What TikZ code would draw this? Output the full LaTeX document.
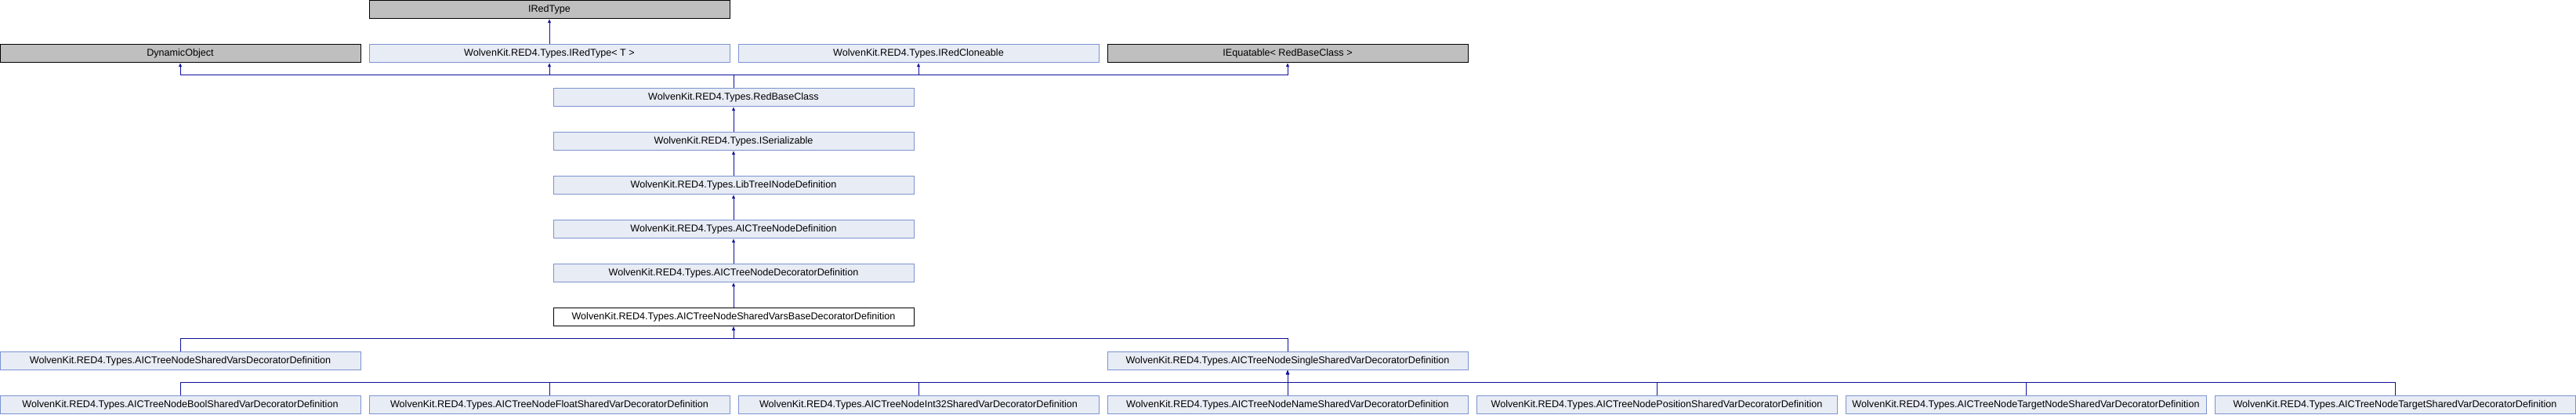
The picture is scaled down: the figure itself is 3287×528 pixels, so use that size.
\documentclass[tikz,border=0pt]{standalone}
\usepackage{fontspec}
\setmainfont{Liberation Sans}
\usetikzlibrary{arrows.meta}
\definecolor{boxfill}{HTML}{E8ECF5}
\definecolor{boxline}{HTML}{7B93CF}
\definecolor{extfill}{HTML}{BFBFBF}
\definecolor{edgeblue}{HTML}{10109C}
\begin{document}
\begin{tikzpicture}[x=1pt, y=-1pt,
		cls/.style={draw=boxline, fill=boxfill, rectangle, line width=1pt, minimum width=460pt, minimum height=23.5pt, inner sep=0pt, font=\fontsize{12.6}{14}\selectfont},
		ext/.style={cls, draw=black, fill=extfill},
		cur/.style={cls, draw=black, fill=white},
		inh/.style={draw=edgeblue, line width=1pt, -{Latex[length=5pt,width=4.5pt]}}]
	\useasboundingbox (0,0) rectangle (3287,528);

	% Base types
	\node[ext] (iredtype) at (701,11.75) {IRedType};
	\node[ext] (dynobj) at (230,67.75) {DynamicObject};
	\node[cls] (iredtypet) at (701,67.75) {WolvenKit.RED4.Types.IRedType< T >};
	\node[cls] (icloneable) at (1172,67.75) {WolvenKit.RED4.Types.IRedCloneable};
	\node[ext] (iequatable) at (1643,67.75) {IEquatable< RedBaseClass >};

	% Main chain
	\node[cls] (redbase) at (936,123.75) {WolvenKit.RED4.Types.RedBaseClass};
	\node[cls] (iserial) at (936,179.75) {WolvenKit.RED4.Types.ISerializable};
	\node[cls] (libtree) at (936,235.75) {WolvenKit.RED4.Types.LibTreeINodeDefinition};
	\node[cls] (aictree) at (936,291.75) {WolvenKit.RED4.Types.AICTreeNodeDefinition};
	\node[cls] (aicdeco) at (936,347.75) {WolvenKit.RED4.Types.AICTreeNodeDecoratorDefinition};
	\node[cur] (sharedbase) at (936,403.75) {WolvenKit.RED4.Types.AICTreeNodeSharedVarsBaseDecoratorDefinition};

	% Derived
	\node[cls] (sharedvars) at (230,459.75) {WolvenKit.RED4.Types.AICTreeNodeSharedVarsDecoratorDefinition};
	\node[cls] (singleshared) at (1643,459.75) {WolvenKit.RED4.Types.AICTreeNodeSingleSharedVarDecoratorDefinition};

	\node[cls] (boolvar) at (230,515.75) {WolvenKit.RED4.Types.AICTreeNodeBoolSharedVarDecoratorDefinition};
	\node[cls] (floatvar) at (701,515.75) {WolvenKit.RED4.Types.AICTreeNodeFloatSharedVarDecoratorDefinition};
	\node[cls] (intvar) at (1172,515.75) {WolvenKit.RED4.Types.AICTreeNodeInt32SharedVarDecoratorDefinition};
	\node[cls] (namevar) at (1643,515.75) {WolvenKit.RED4.Types.AICTreeNodeNameSharedVarDecoratorDefinition};
	\node[cls] (posvar) at (2114,515.75) {WolvenKit.RED4.Types.AICTreeNodePositionSharedVarDecoratorDefinition};
	\node[cls] (targetnodevar) at (2585,515.75) {WolvenKit.RED4.Types.AICTreeNodeTargetNodeSharedVarDecoratorDefinition};
	\node[cls] (targetvar) at (3056,515.75) {WolvenKit.RED4.Types.AICTreeNodeTargetSharedVarDecoratorDefinition};

	% Inheritance
	\draw[inh] (iredtypet) -- (iredtype);
	\draw[inh] (redbase.north) -- ++(0,-16) -| (dynobj.south);
	\draw[inh] (redbase.north) -- ++(0,-16) -| (iredtypet.south);
	\draw[inh] (redbase.north) -- ++(0,-16) -| (icloneable.south);
	\draw[inh] (redbase.north) -- ++(0,-16) -| (iequatable.south);
	\draw[inh] (iserial) -- (redbase);
	\draw[inh] (libtree) -- (iserial);
	\draw[inh] (aictree) -- (libtree);
	\draw[inh] (aicdeco) -- (aictree);
	\draw[inh] (sharedbase) -- (aicdeco);
	\draw[inh] (sharedvars.north) -- ++(0,-16) -| (sharedbase.south);
	\draw[inh] (singleshared.north) -- ++(0,-16) -| (sharedbase.south);
	\draw[inh] (boolvar.north) -- ++(0,-16) -| (singleshared.south);
	\draw[inh] (floatvar.north) -- ++(0,-16) -| (singleshared.south);
	\draw[inh] (intvar.north) -- ++(0,-16) -| (singleshared.south);
	\draw[inh] (namevar) -- (singleshared);
	\draw[inh] (posvar.north) -- ++(0,-16) -| (singleshared.south);
	\draw[inh] (targetnodevar.north) -- ++(0,-16) -| (singleshared.south);
	\draw[inh] (targetvar.north) -- ++(0,-16) -| (singleshared.south);
\end{tikzpicture}
\end{document}
